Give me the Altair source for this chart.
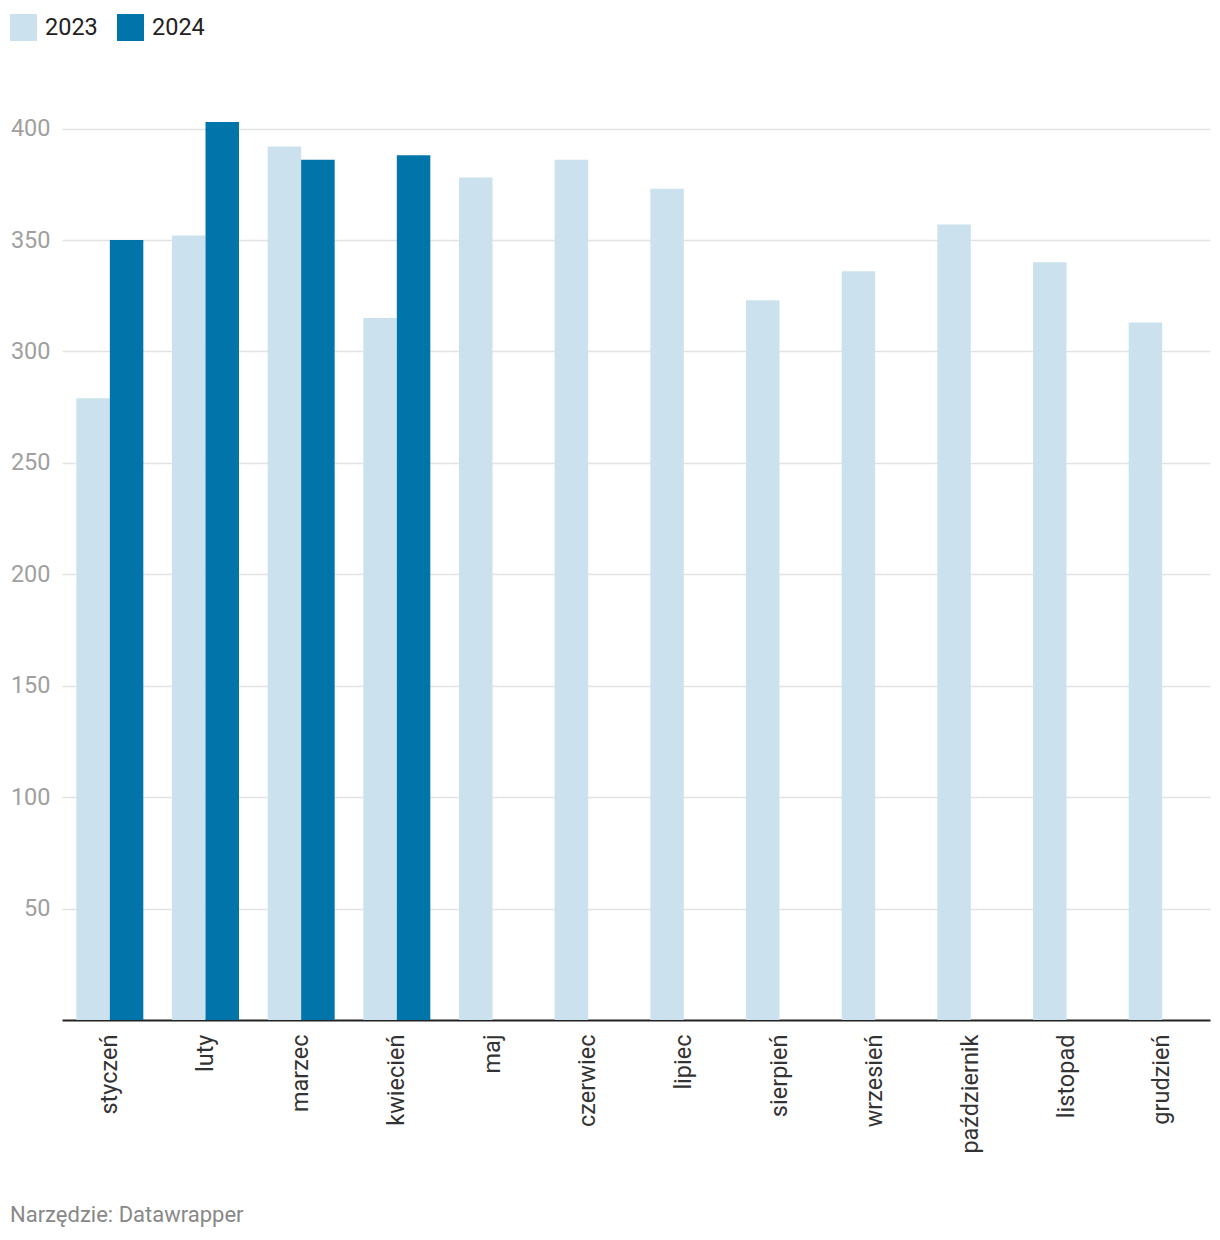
import altair as alt
import pandas as pd

months = ["styczeń", "luty", "marzec", "kwiecień", "maj", "czerwiec",
          "lipiec", "sierpień", "wrzesień", "październik", "listopad", "grudzień"]
values_2023 = [279, 352, 392, 315, 378, 386, 373, 323, 336, 357, 340, 313]
values_2024 = [350, 403, 386, 388]
years = ["2023", "2024"]
colors = ["#cbe2ee", "#0174aa"]
y_ticks = [50, 100, 150, 200, 250, 300, 350, 400]

rows = []
for m, v in zip(months, values_2023):
    rows.append({"month": m, "year": "2023", "value": v})
for m, v in zip(months, values_2024):
    rows.append({"month": m, "year": "2024", "value": v})
df = pd.DataFrame(rows)

FONT = "Roboto"

bars = alt.Chart(df).mark_bar().encode(
    x=alt.X("month:N", sort=months,
            scale=alt.Scale(paddingInner=0.3, paddingOuter=0.15),
            axis=alt.Axis(title=None, labelAngle=270, labelFontSize=23.5,
                          labelColor="#333333", labelPadding=14, ticks=False,
                          domain=True, domainColor="#222222", domainWidth=2,
                          labelFont=FONT, grid=False)),
    xOffset=alt.XOffset("year:N", sort=years),
    y=alt.Y("value:Q", scale=alt.Scale(domain=[0, 420], nice=False),
            axis=alt.Axis(title=None, values=y_ticks, labelFontSize=23.5,
                          labelColor="#a0a0a0", labelPadding=12, ticks=False,
                          domain=False, grid=True, gridColor="#e3e3e3",
                          gridWidth=1.5, labelFont=FONT)),
    color=alt.Color("year:N", sort=years,
                    scale=alt.Scale(domain=years, range=colors),
                    legend=alt.Legend(title=None, orient="none", legendX=-52,
                                      legendY=-70, direction="horizontal",
                                      symbolType="square", symbolSize=729,
                                      symbolStrokeWidth=0, labelFontSize=23.5,
                                      labelColor="#222222", labelOffset=8,
                                      columnPadding=19, padding=0,
                                      labelFont=FONT)),
)

chart = bars.properties(
    width=1148,
    height=936,
    autosize=alt.AutoSizeParams(type="none"),
    padding={"left": 54, "top": 76, "right": 2, "bottom": 220},
    title=alt.TitleParams(text="Narzędzie: Datawrapper", orient="bottom",
                          anchor="start", frame="bounds", fontSize=22,
                          font=FONT, fontWeight="normal", color="#888888",
                          offset=52),
).configure_view(stroke=None).configure_axis(labelFont=FONT)

chart.save("out.html", embed_options={"renderer": "svg", "actions": False})
